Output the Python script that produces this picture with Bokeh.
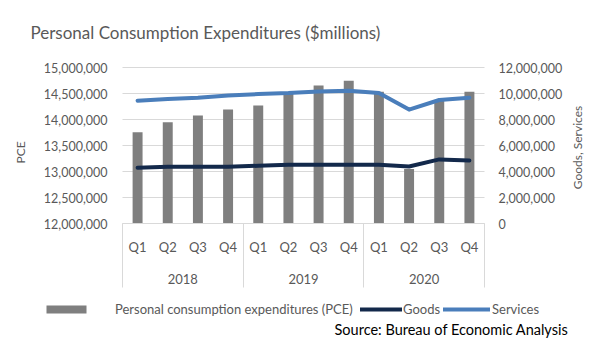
from bokeh.plotting import figure
from bokeh.models import (Range1d, LinearAxis, NumeralTickFormatter,
                          FixedTicker, Legend, LegendItem, Label)
from bokeh.embed import file_html
from bokeh.resources import INLINE

# ---- data ----
years = ["2018", "2019", "2020"]
quarters = ["Q1", "Q2", "Q3", "Q4"]
pce = [13756000, 13947000, 14075000, 14190000,
       14270000, 14510000, 14655000, 14745000,
       14534000, 13050000, 14375000, 14534000]
goods = [4290000, 4370000, 4370000, 4370000,
         4440000, 4520000, 4520000, 4520000,
         4520000, 4390000, 4930000, 4850000]
services = [9447000, 9574000, 9680000, 9855000,
            9957000, 10030000, 10160000, 10210000,
            10030000, 8760000, 9500000, 9680000]
left_ticks = [12000000, 12500000, 13000000, 13500000, 14000000, 14500000, 15000000]
right_ticks = [0, 2000000, 4000000, 6000000, 8000000, 10000000, 12000000]

title_text = "Personal Consumption Expenditures ($millions)"
source_text = "Source: Bureau of Economic Analysis"
legend_labels = ["Personal consumption expenditures (PCE)", "Goods", "Services"]
left_title = "PCE"
right_title = "Goods, Services"

# ---- style / layout constants ----
FONT = "Lato"
GREY_TXT = "#595959"
GRID = "#d9d9d9"
BAR_C = "#7f7f7f"
GOODS_C = "#13294b"
SERV_C = "#4a7ebb"
W, H = 606, 350
FL, FR, FT, FB = 122, 484, 67, 223      # plot-area edges in canvas pixels

n = len(years) * len(quarters)
xpos = [i + 0.5 for i in range(n)]       # category centres
ppx = (FR - FL) / n                      # pixels per category
ymin, ymax = left_ticks[0], left_ticks[-1]
rmin, rmax = right_ticks[0], right_ticks[-1]
ppy = (FB - FT) / (ymax - ymin)
ppr = (FB - FT) / (rmax - rmin)

x_range = Range1d(-FL / ppx, n + (W - FR) / ppx)
y_range = Range1d(ymin - (H - FB) / ppy, ymax + FT / ppy)
r_range = Range1d(rmin - (H - FB) / ppr, rmax + FT / ppr)

p = figure(width=W, height=H, output_backend="svg", toolbar_location=None,
           x_range=x_range, y_range=y_range,
           x_axis_location=None, y_axis_location=None,
           min_border=0)
p.extra_y_ranges = {"right": r_range}
p.outline_line_color = None
p.background_fill_color = "white"
p.border_fill_color = "white"
p.xgrid.visible = False
p.ygrid.visible = False

# horizontal gridlines
p.segment(x0=0, x1=n, y0=left_ticks, y1=left_ticks, line_color=GRID, line_width=1)

bars = p.vbar(x=xpos, top=pce, bottom=ymin, width=0.33,
              fill_color=BAR_C, line_color=None)
gl = p.line(x=xpos, y=goods, y_range_name="right", line_width=4,
            line_color=GOODS_C, line_join="round", line_cap="round")
sl = p.line(x=xpos, y=services, y_range_name="right", line_width=4,
            line_color=SERV_C, line_join="round", line_cap="round")


def style_axis(ax, size="12.5px"):
    ax.major_label_text_font = FONT
    ax.major_label_text_font_size = size
    ax.major_label_text_color = GREY_TXT
    ax.major_tick_line_color = None
    ax.minor_tick_line_color = None
    ax.major_tick_out = 0
    ax.major_tick_in = 0
    ax.axis_line_color = None


# left axis
la = LinearAxis(fixed_location=0, ticker=FixedTicker(ticks=left_ticks),
                formatter=NumeralTickFormatter(format="0,0"), bounds=(ymin, ymax))
style_axis(la)
la.major_label_standoff = 15
p.add_layout(la, "left")

# right axis
ra = LinearAxis(y_range_name="right", fixed_location=n, ticker=FixedTicker(ticks=right_ticks),
                formatter=NumeralTickFormatter(format="0,0"), bounds=(rmin, rmax))
style_axis(ra)
ra.major_label_standoff = 14
p.add_layout(ra, "right")

# bottom: quarter labels + axis line
q_labels = {x: quarters[i % len(quarters)] for i, x in enumerate(xpos)}
qa = LinearAxis(fixed_location=ymin, ticker=FixedTicker(ticks=xpos),
                major_label_overrides=q_labels, bounds=(0, n))
style_axis(qa, "13px")
qa.axis_line_color = GRID
qa.major_label_standoff = 15
p.add_layout(qa, "below")

# bottom: year labels
ycent = [len(quarters) * (i + 0.5) for i in range(len(years))]
ya = LinearAxis(fixed_location=ymin, ticker=FixedTicker(ticks=ycent),
                major_label_overrides={c: y for c, y in zip(ycent, years)}, bounds=(0, n))
style_axis(ya, "13px")
ya.major_label_standoff = 50
p.add_layout(ya, "below")

# bottom: group separators
seps = [len(quarters) * i for i in range(len(years) + 1)]
sa = LinearAxis(fixed_location=ymin, ticker=FixedTicker(ticks=seps),
                major_label_overrides={s: "" for s in seps}, bounds=(0, n))
style_axis(sa)
sa.major_tick_line_color = GRID
sa.major_tick_out = 64
p.add_layout(sa, "below")

# axis titles
p.add_layout(Label(x=20, y=H - 152, x_units="screen", y_units="screen", text=left_title,
                   angle=1.5708, text_align="center", text_baseline="middle",
                   text_font=FONT, text_font_size="12px", text_color=GREY_TXT))
p.add_layout(Label(x=577, y=H - 147, x_units="screen", y_units="screen", text=right_title,
                   angle=1.5708, text_align="center", text_baseline="middle",
                   text_font=FONT, text_font_size="12px", text_color=GREY_TXT))

# chart title
p.add_layout(Label(x=30, y=H - 32, x_units="screen", y_units="screen", text=title_text,
                   text_align="left", text_baseline="alphabetic",
                   text_font=FONT, text_font_size="17px", text_color=GREY_TXT))
# source
p.add_layout(Label(x=568, y=H - 329, x_units="screen", y_units="screen", text=source_text,
                   text_align="right", text_baseline="alphabetic",
                   text_font=FONT, text_font_size="14.5px", text_color="#000000"))


# legends
def mk_legend(label, r, x, gw, gh, standoff):
    lg = Legend(items=[LegendItem(label=label, renderers=[r])],
                location=(x, H - 317), orientation="horizontal",
                padding=0, spacing=0, margin=0,
                glyph_width=gw, glyph_height=gh, label_height=10,
                label_standoff=standoff,
                border_line_color=None, background_fill_alpha=0,
                label_text_font=FONT, label_text_font_size="13px",
                label_text_color=GREY_TXT)
    p.add_layout(lg, "center")


mk_legend(legend_labels[0], bars, 41, 50, 10, 24)
mk_legend(legend_labels[1], gl, 360, 42, 10, 1)
mk_legend(legend_labels[2], sl, 443, 47, 10, 2)

open("out.html", "w").write(file_html(p, INLINE))
